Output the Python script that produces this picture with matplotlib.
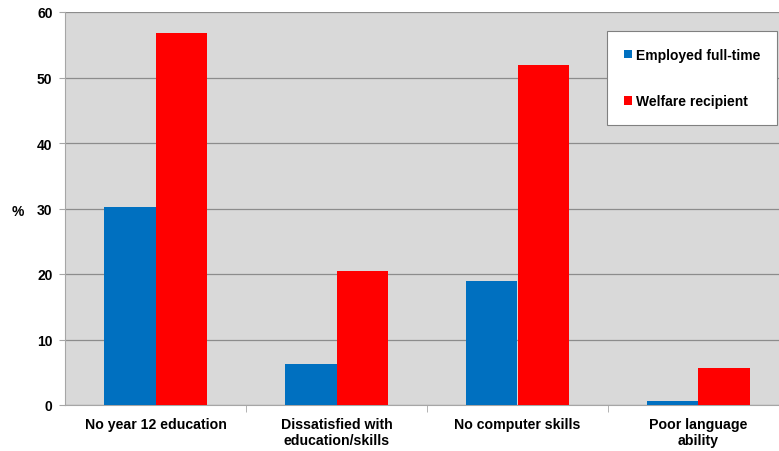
import numpy as np
import matplotlib.pyplot as plt
from matplotlib.ticker import FixedLocator

categories = ["No year 12 education", "Dissatisfied with\neducation/skills",
              "No computer skills", "Poor language\nability"]
employed = [30.2, 6.3, 19.0, 0.6]
welfare = [56.8, 20.4, 51.9, 5.6]

plt.rcParams['font.family'] = ['Liberation Sans', 'DejaVu Sans']

fig = plt.figure(figsize=(7.79, 4.52), dpi=100)
# plot area runs slightly past the right edge of the picture
ax = fig.add_axes([65 / 779, 46 / 452, 724 / 779, 393 / 452])
ax.set_facecolor("#d9d9d9")

x = np.arange(len(categories))
w = 0.287
ax.bar(x - w / 2, employed, w, color="#0070c0", label="Employed full-time", zorder=3)
ax.bar(x + w / 2, welfare, w, color="#ff0000", label="Welfare recipient", zorder=3)

ax.set_xlim(-0.5, len(categories) - 0.5)
ax.set_ylim(0, 60)
ax.set_yticks(range(0, 61, 10))
ax.yaxis.grid(True, color="#8c8c8c", linewidth=0.9, zorder=0)
ax.set_xticks(x)
ax.set_xticklabels(categories, fontsize=10.2, fontweight="bold", linespacing=1.15)
ax.tick_params(axis="x", length=0, pad=9)
ax.xaxis.set_minor_locator(FixedLocator(np.arange(0.5, len(categories) - 0.5, 1)))
ax.tick_params(axis="x", which="minor", length=5, color="#a6a6a6")
ax.tick_params(axis="y", labelsize=10, length=4, color="#a6a6a6", pad=5)
for t in ax.get_yticklabels():
    t.set_fontweight("bold")

for s in ["top", "right"]:
    ax.spines[s].set_visible(False)
for s in ["left", "bottom"]:
    ax.spines[s].set_color("#a6a6a6")

fig.text(12 / 779, 1 - 212 / 452, "%", fontsize=10, fontweight="bold", va="center")

# legend box pinned to the right edge of the picture
leg = ax.legend(loc="upper right", bbox_to_anchor=(777 / 779, 1 - 32 / 452),
                bbox_transform=fig.transFigure, frameon=True, fancybox=False,
                framealpha=1, prop={"weight": "bold", "size": 10},
                handlelength=0.55, handleheight=0.55, handletextpad=0.3,
                labelspacing=2.35, borderpad=1.2, borderaxespad=0)
leg.get_frame().set_edgecolor("#808080")
leg.get_frame().set_linewidth(0.8)

fig.savefig("out.png", dpi=100)
